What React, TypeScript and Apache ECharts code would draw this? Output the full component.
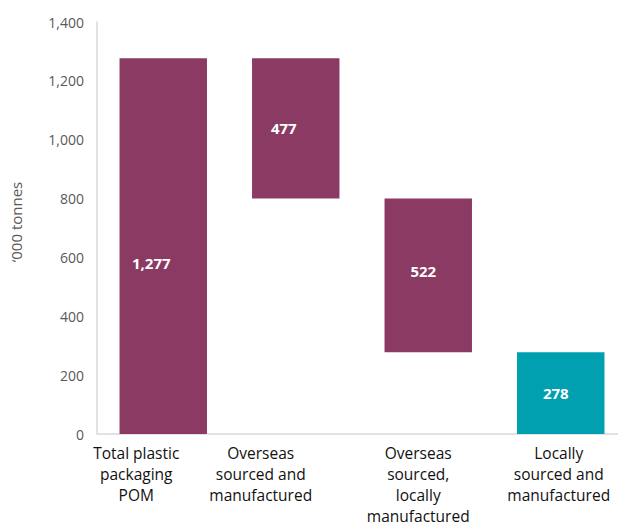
import React, { useEffect, useRef } from "react";
import * as echarts from "echarts";

const categories = [
  "Total plastic\npackaging\nPOM",
  "Overseas\nsourced and\nmanufactured",
  "Overseas\nsourced,\nlocally\nmanufactured",
  "Locally\nsourced and\nmanufactured",
];
const baseValues = [0, 800, 278, 0];
const barValues = [1277, 477, 522, 278];
const barColors = ["#8B3B63", "#8B3B63", "#8B3B63", "#00A0B1"];
const yTicks = { min: 0, max: 1400, interval: 200 };

export default function App() {
  const ref = useRef<HTMLDivElement>(null);
  useEffect(() => {
    if (!ref.current) return;
    const chart = echarts.init(ref.current, null, { renderer: "svg" });
    const font = "'Open Sans', 'Noto Sans', sans-serif";
    const labelOffsets = [[-12, 17], [-12, 0], [-5, -4], [-5, 0]];
    const catShift = [54, 70, 20, 4];
    chart.setOption({
      animation: false,
      textStyle: { fontFamily: font },
      grid: {
        left: 97,
        right: -9,
        top: 22,
        bottom: 88,
        containLabel: false,
        outerBoundsMode: "none",
      },
      xAxis: {
        type: "category",
        data: categories.map((c, i) => ({
          value: c,
          textStyle: { padding: [0, catShift[i], 0, 0] },
        })),
        axisLine: { show: true, lineStyle: { color: "#D9D9D9", width: 1.5 } },
        axisTick: { show: false },
        axisLabel: {
          interval: 0,
          color: "#111111",
          fontSize: 15.5,
          lineHeight: 21,
          margin: 8,
          fontFamily: font,
        },
      },
      yAxis: {
        type: "value",
        min: yTicks.min,
        max: yTicks.max,
        interval: yTicks.interval,
        name: "\u2018000 tonnes",
        nameLocation: "middle",
        nameGap: 74,
        nameTextStyle: { color: "#595959", fontSize: 15, fontFamily: font, padding: [0, 0, 0, 12] },
        axisLine: { show: true, lineStyle: { color: "#D9D9D9", width: 1.5 } },
        axisTick: { show: false },
        splitLine: { show: false },
        axisLabel: {
          color: "#595959",
          fontSize: 14,
          margin: 13,
          fontFamily: font,
          formatter: (v: number) => v.toLocaleString("en-US"),
        },
      },
      series: [
        {
          type: "bar",
          stack: "w",
          data: baseValues,
          itemStyle: { color: "transparent" },
          emphasis: { disabled: true },
          silent: true,
          barWidth: "66%",
        },
        {
          type: "bar",
          stack: "w",
          barWidth: "66%",
          data: barValues.map((v, i) => ({
            value: v,
            itemStyle: { color: barColors[i] },
            label: { offset: labelOffsets[i] },
          })),
          label: {
            show: true,
            position: "inside",
            color: "#FFFFFF",
            fontWeight: "bold",
            fontSize: 15,
            fontFamily: font,
            formatter: (p: any) => Number(p.value).toLocaleString("en-US"),
          },
        },
      ],
    });
    return () => chart.dispose();
  }, []);
  return (
    <div
      ref={ref}
      style={{ position: "fixed", left: 0, top: 0, width: 618, height: 522, background: "#fff" }}
    />
  );
}
